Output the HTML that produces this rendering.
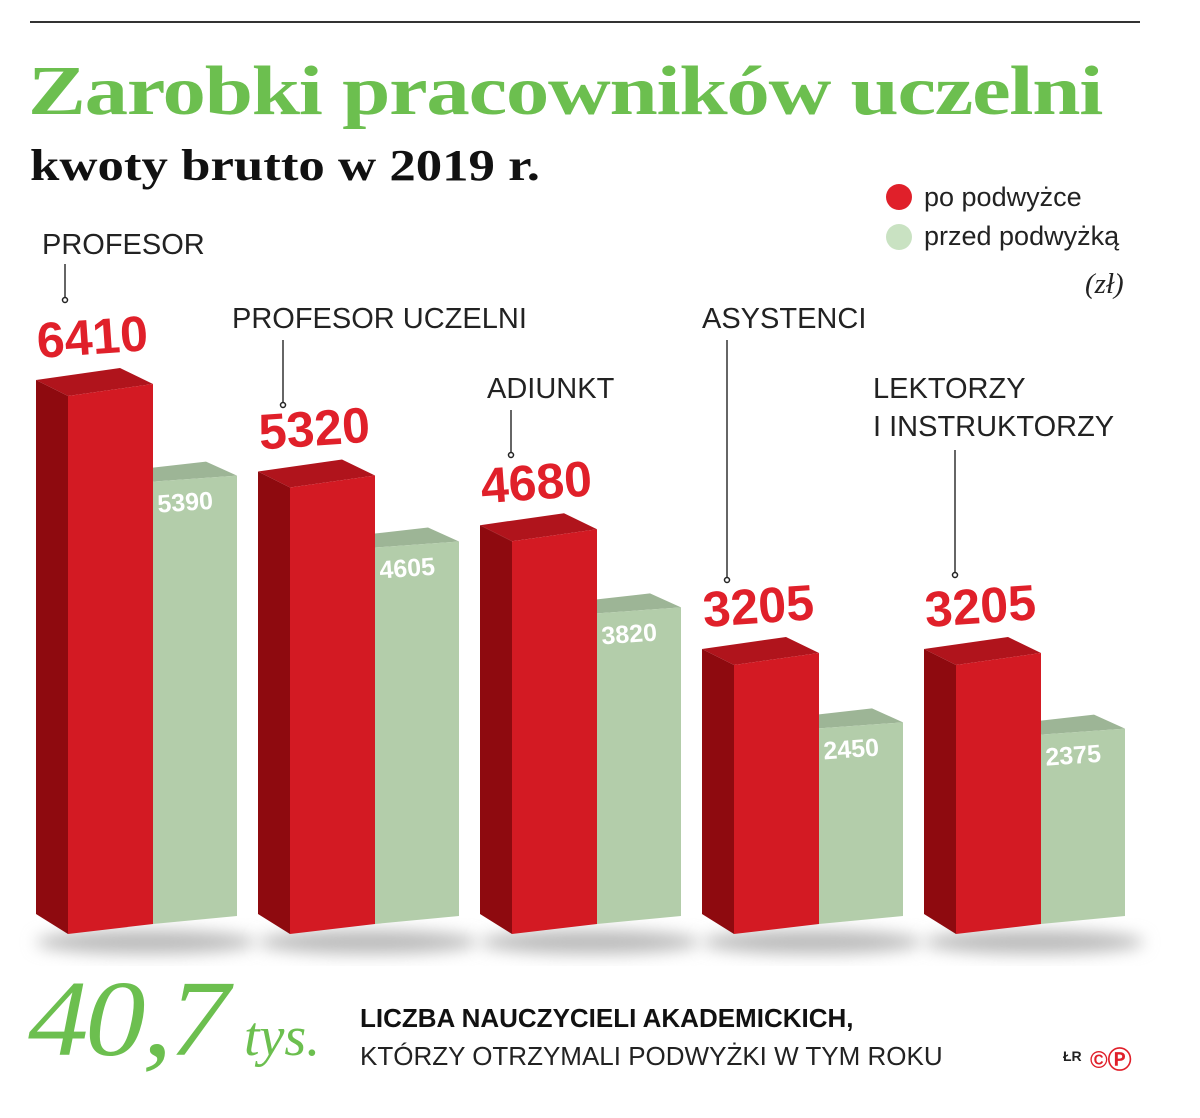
<!DOCTYPE html>
<html><head><meta charset="utf-8"><style>
body{margin:0;background:#fff;width:1200px;height:1118px;overflow:hidden;position:relative;font-family:"Liberation Sans",sans-serif}
.t{position:absolute;white-space:nowrap;transform-origin:0 0}
</style></head><body>
<div style="position:absolute;left:30px;top:21px;width:1110px;height:2px;background:#333"></div>
<div class="t" style="left:28px;top:52px;font-family:'Liberation Serif',serif;font-weight:bold;font-size:70px;color:#6cbf4f;letter-spacing:-1px;transform:scaleX(1.24)">Zarobki pracowników uczelni</div>
<div class="t" style="left:30px;top:140px;font-family:'Liberation Serif',serif;font-weight:bold;font-size:44px;color:#111;transform:scaleX(1.2)">kwoty brutto w 2019 r.</div>
<div style="position:absolute;left:886px;top:184px;width:26px;height:26px;border-radius:50%;background:#e0202a"></div>
<div class="t" style="left:924px;top:182px;font-size:27px;color:#222">po podwyżce</div>
<div style="position:absolute;left:886px;top:224px;width:26px;height:26px;border-radius:50%;background:#c9e2c2"></div>
<div class="t" style="left:924px;top:221px;font-size:27px;color:#222">przed podwyżką</div>
<div class="t" style="left:1085px;top:268px;font-family:'Liberation Serif',serif;font-style:italic;font-size:29px;color:#222">(zł)</div>
<svg id="chart" width="1200" height="1118" style="position:absolute;left:0;top:0">
<defs><filter id="bl" x="-20%" y="-50%" width="140%" height="200%"><feGaussianBlur stdDeviation="8"/></filter></defs>
</svg>
<div class="t" style="left:28px;top:958px;font-family:'Liberation Serif',serif;font-style:italic;font-size:108px;color:#6cbf4f;letter-spacing:-3px;transform:scaleX(1.12)">40,7</div>
<div class="t" style="left:244px;top:1005px;font-family:'Liberation Serif',serif;font-style:italic;font-size:56px;color:#6cbf4f">tys.</div>
<div class="t" style="left:360px;top:1003px;font-size:26px;font-weight:bold;color:#111">LICZBA NAUCZYCIELI AKADEMICKICH,</div>
<div class="t" style="left:360px;top:1041px;font-size:26px;color:#222">KTÓRZY OTRZYMALI PODWYŻKI W TYM ROKU</div>
<div class="t" style="left:1063px;top:1048px;font-size:14px;font-weight:bold;color:#222">ŁR</div>
<div class="t" style="left:1090px;top:1040px;font-size:24px;font-weight:bold;color:#e0202a">©Ⓟ</div>
<script>
const categories=["PROFESOR","PROFESOR UCZELNI","ADIUNKT","ASYSTENCI","LEKTORZY|I INSTRUKTORZY"];
const afterValues=[6410,5320,4680,3205,3205];
const beforeValues=[5390,4605,3820,2450,2375];
const svg=document.getElementById('chart');
const NS='http://www.w3.org/2000/svg';
const base=934, k=538/6410;
const y=v=>base-v*k;
const gx=i=>36+i*222;
const labelPos=[[42,228,65,264,300],[232,302,283,340,405],[487,372,511,410,455],[702,302,727,340,580],[873,372,955,450,575]];
function poly(pts,fill,name){const p=document.createElementNS(NS,'polygon');p.setAttribute('points',pts.map(a=>a.join(',')).join(' '));p.setAttribute('fill',fill);


svg.appendChild(p);return p;}
function txt(x,yy,s,size,fill,w,name,rot){const t=document.createElementNS(NS,'text');t.setAttribute('x',x);t.setAttribute('y',yy);t.setAttribute('font-size',size);t.setAttribute('fill',fill);t.setAttribute('font-weight',w);t.setAttribute('font-family','Liberation Sans, sans-serif');if(rot)t.setAttribute('transform',`rotate(${rot} ${x} ${yy})`);t.textContent=s;


svg.appendChild(t);return t;}
categories.forEach((c,i)=>{
 const x0=gx(i);
 const e=document.createElementNS(NS,'ellipse');e.setAttribute('cx',x0+110);e.setAttribute('cy',base+8);e.setAttribute('rx',110);e.setAttribute('ry',12);e.setAttribute('fill','#bbb');e.setAttribute('filter','url(#bl)');
 
 
 svg.appendChild(e);
 const g=y(beforeValues[i]);
 const gb=base-10;
 poly([[x0+117,g-14],[x0+170,g-20],[x0+201,g-6],[x0+117,g]],'#9db596','bar-before-top');
 poly([[x0+117,g],[x0+201,g-6],[x0+201,gb-8],[x0+117,gb]],'#b3cdaa','bar-before-'+i);
 const r=y(afterValues[i]);
 poly([[x0,r-16],[x0+84,r-28],[x0+117,r-12],[x0+32,r]],'#b0141c','bar-after-top');
 poly([[x0,r-16],[x0+32,r],[x0+32,base],[x0,base-20]],'#8e0a0f','bar-after-side');
 poly([[x0+32,r],[x0+117,r-12],[x0+117,base-10],[x0+32,base]],'#d31a23','bar-after-'+i);
 txt(x0+2,r-38,String(afterValues[i]),50,'#e0202a','bold','value-after-'+i,-4);
 txt(x0+122,g+31,String(beforeValues[i]),25,'#fff','bold','value-before-'+i,-4);
 const L=labelPos[i];
 c.split('|').forEach((s,j)=>txt(L[0],L[1]+j*38+26,s,29,'#222','normal','category-label-'+i));
 const ln=document.createElementNS(NS,'line');ln.setAttribute('x1',L[2]);ln.setAttribute('x2',L[2]);ln.setAttribute('y1',L[3]);ln.setAttribute('y2',L[4]);ln.setAttribute('stroke','#333');ln.setAttribute('stroke-width',1.5);
 
 
 svg.appendChild(ln);
 const d=document.createElementNS(NS,'circle');d.setAttribute('cx',L[2]);d.setAttribute('cy',L[4]);d.setAttribute('r',2.5);d.setAttribute('fill','#fff');d.setAttribute('stroke','#222');d.setAttribute('stroke-width',1.5);
 
 
 svg.appendChild(d);
});
</script>
</body></html>
